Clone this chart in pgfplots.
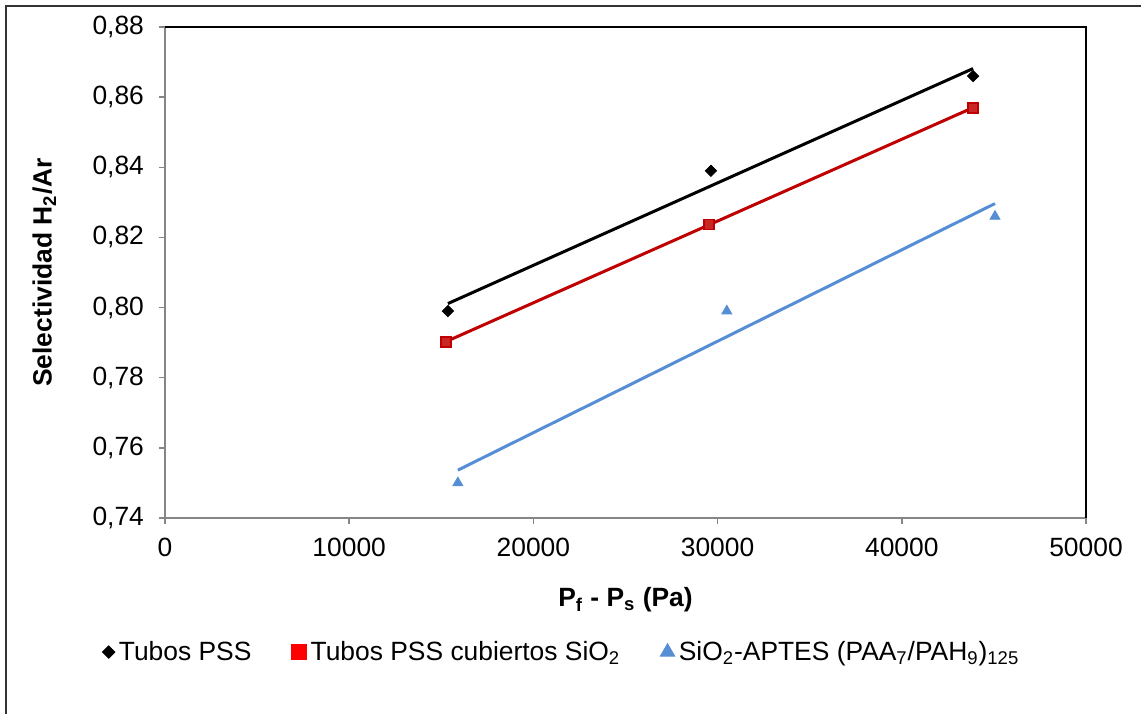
\documentclass[border=0pt]{standalone}
\usepackage{fontspec}
\setmainfont{Liberation Sans}
\usepackage{pgfplots}
\usepackage{pgfplotstable}
\pgfplotsset{compat=1.18}
\definecolor{axgray}{RGB}{134,134,134}
\definecolor{xlred}{RGB}{192,0,0}
\definecolor{xlblue}{RGB}{85,142,213}

\pgfplotstableread{
x y
15360 0.799
29640 0.839
43870 0.866
}\tablePSS
\pgfplotstableread{
x y
15260 0.7902
29530 0.8238
43870 0.8569
}\tableSiO
\pgfplotstableread{
x y
15900 0.750
30500 0.799
45060 0.826
}\tableAPTES

\begin{document}
\begin{tikzpicture}
\path[use as bounding box] (-82.5pt,-97.5pt) rectangle (488pt,259pt);
\begin{axis}[
  at={(0,0)}, anchor=south west,
  scale only axis, width=460.5pt, height=245.5pt,
  xmin=0, xmax=50000, ymin=0.74, ymax=0.88,
  xtick={0,10000,20000,30000,40000,50000},
  ytick={0.74,0.76,0.78,0.80,0.82,0.84,0.86,0.88},
  scaled x ticks=false, scaled y ticks=false,
  axis x line*=bottom, axis y line*=left,
  axis line style={axgray, line width=0.75pt},
  tick align=outside, major tick length=3pt,
  tick style={axgray, line width=0.75pt},
  xticklabel style={/pgf/number format/1000 sep={}, yshift=-3.5pt},
  yticklabel style={/pgf/number format/use comma, /pgf/number format/fixed,
    /pgf/number format/fixed zerofill, /pgf/number format/precision=2, xshift=-4pt},
  /pgf/number format/assume math mode=true,
  ticklabel style={font=\fontsize{13.2}{15}\selectfont},
  xlabel={\textbf{P\textsubscript{f} - P\textsubscript{s} (Pa)}},
  ylabel={\textbf{Selectividad H\textsubscript{2}/Ar}},
  label style={font=\fontsize{13.2}{15}\selectfont},
  xlabel style={at={(axis description cs:0.5,0)}, anchor=center, yshift=-41pt},
  ylabel style={at={(axis description cs:-0.131,0.5)}, anchor=center},
  legend style={at={(axis description cs:0.432,-0.273)}, anchor=center,
    draw=none, fill=none, font=\fontsize{13.2}{15}\selectfont,
    /tikz/every even column/.append style={column sep=18pt}},
  legend columns=3,
  legend cell align=left,
  clip=false,
]
\draw[black, line width=0.75pt] (rel axis cs:0,1) -- (rel axis cs:1,1) -- (rel axis cs:1,0);
% trend lines
\addplot[black, line width=1.5pt, forget plot] table[x=x, y={create col/linear regression={y=y}}] {\tablePSS};
\addplot[xlred, line width=1.5pt, forget plot] table[x=x, y={create col/linear regression={y=y}}] {\tableSiO};
\addplot[xlblue, line width=1.5pt, forget plot] table[x=x, y={create col/linear regression={y=y}}] {\tableAPTES};
% data points
\addplot[only marks, mark=square*, mark size=2pt, mark options={rotate=45, fill=black, draw=black},
  legend image post style={mark size=2.2pt}] table[x=x, y=y] {\tablePSS};
\addlegendentry{Tubos PSS}
\addplot[only marks, mark=square*, mark size=2.5pt, mark options={fill=xlred!85!white, draw=xlred, line width=0.6pt},
  legend image post style={mark size=3.8pt, mark options={fill=red, draw=red}}] table[x=x, y=y] {\tableSiO};
\addlegendentry{Tubos PSS cubiertos SiO\textsubscript{2}}
\addplot[only marks, mark=triangle*, mark size=2.9pt, mark options={fill=xlblue, draw=xlblue},
  legend image post style={mark size=4.2pt}] table[x=x, y=y] {\tableAPTES};
\addlegendentry{SiO\textsubscript{2}-APTES (PAA\textsubscript{7}/PAH\textsubscript{9})\textsubscript{125}}
\end{axis}
\draw[black!80, line width=0.75pt] (-79.5pt,-100pt) -- (-79.5pt,256pt) -- (490pt,256pt);
\end{tikzpicture}
\end{document}
